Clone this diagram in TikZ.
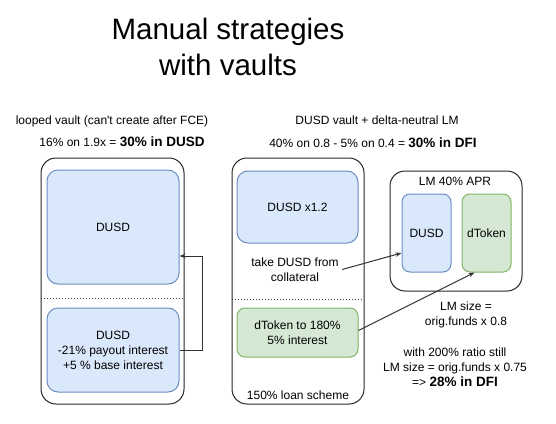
\documentclass[tikz,border=0pt]{standalone}
\usepackage{fontspec}
\setmainfont{Liberation Sans}[Ligatures=TeXOff]
\usetikzlibrary{arrows.meta}

\definecolor{bluefill}{HTML}{DAE8FC}
\definecolor{blueline}{HTML}{6C8EBF}
\definecolor{greenfill}{HTML}{D5E8D4}
\definecolor{greenline}{HTML}{82B366}

\tikzset{every picture/.style={line width=1pt}}
\tikzset{
  vault/.style={draw=black!85, rounded corners=15pt, inner sep=0pt},
  bluebox/.style={draw=blueline, fill=bluefill, rounded corners=11pt, align=center, inner sep=0pt},
  greenbox/.style={draw=greenline, fill=greenfill, rounded corners=8pt, align=center, inner sep=0pt},
  txt/.style={inner sep=0pt, align=center},
  arr/.style={draw=black!80, -{Stealth[length=6pt,width=4.5pt]}},
  sep/.style={draw=black!75, dash pattern=on 1pt off 2pt, line width=1pt}
}
\newcommand{\bigres}[1]{{\fontsize{13.5}{15}\selectfont\bfseries #1}}

\begin{document}
\begin{tikzpicture}[x=1pt,y=-1pt,font=\fontsize{12}{15}\selectfont]
\useasboundingbox (0,0) rectangle (556,423);

% title
\node[txt, font=\fontsize{29.5}{36}\selectfont] (title) at (228,47) {Manual strategies\\with vaults};

% looped vault
\node[txt] (lhead) at (112,121) {looped vault (can't create after FCE)};
\node[txt] (lcalc) at (122,142) {16\% on 1.9x = \bigres{30\% in DUSD}};
\node[vault, minimum width=143pt, minimum height=246pt] (lvault) at (112.5,281) {};
\node[bluebox, minimum width=132pt, minimum height=114pt] (tdusd) at (113,227) {DUSD};
\node[bluebox, minimum width=132pt, minimum height=84pt] (bdusd) at (113,350) {DUSD\\-21\% payout interest\\+5 \% base interest};
\draw[sep] ([yshift=-17pt]lvault.west) -- ([yshift=-17pt,xshift=-2pt]lvault.east);
\draw[arr] (bdusd.east) -- ++(23,0) |- ([yshift=-29pt]tdusd.east);

% DUSD vault + LM
\node[txt] (mhead) at (377,120) {DUSD vault + delta-neutral LM};
\node[txt] (mcalc) at (373,143) {40\% on 0.8 - 5\% on 0.4 = \bigres{30\% in DFI}};
\node[vault, minimum width=132pt, minimum height=246pt] (mvault) at (298,281) {};
\node[bluebox, minimum width=121pt, minimum height=72pt] (mdusd) at (297.5,207) {DUSD x1.2};
\node[txt] (take) at (295,269.5) {take DUSD from\\collateral};
\draw[sep] ([yshift=-18pt]mvault.west) -- ([yshift=-18pt,xshift=-2pt]mvault.east);
\node[greenbox, minimum width=121pt, minimum height=49pt] (dtok) at (297.5,332.5) {dToken to 180\%\\5\% interest};
\node[txt] (scheme) at (298,395) {150\% loan scheme};

% LM pool
\node[vault, minimum width=132pt, minimum height=120pt] (lm) at (456,231) {};
\node[txt] (lmhead) at (455,181) {LM 40\% APR};
\node[bluebox, rounded corners=8pt, minimum width=49pt, minimum height=78pt] (lmdusd) at (426.5,233) {DUSD};
\node[greenbox, minimum width=49pt, minimum height=78pt] (lmdtok) at (486.5,233) {dToken};
\draw[arr] ([xshift=3pt]take.east) -- ([yshift=-20pt]lmdusd.west);
\draw[arr] ([yshift=2pt]dtok.east) -- ([xshift=-12pt]lmdtok.south);

% notes
\node[txt] (size) at (466,314.5) {LM size =\\orig.funds x 0.8};
\node[txt] (ratio) at (455,367) {with 200\% ratio still\\LM size = orig.funds x 0.75\\=> \bigres{28\% in DFI}};
\end{tikzpicture}
\end{document}
